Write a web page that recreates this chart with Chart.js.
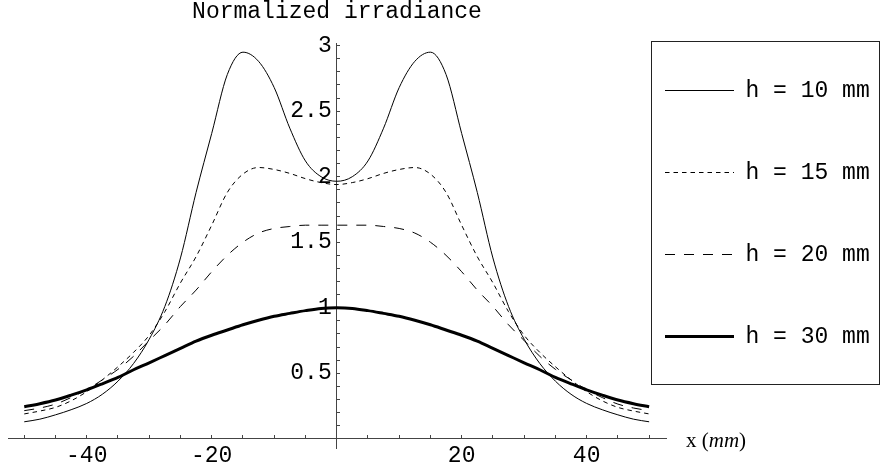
<!DOCTYPE html>
<html>
<head>
<meta charset="utf-8">
<script src="https://cdn.jsdelivr.net/npm/chart.js@4.4.1/dist/chart.umd.min.js"></script>
<style>
  html, body { margin: 0; padding: 0; background: #fff; }
  #contenedor { position: relative; width: 880px; height: 472px; }
</style>
</head>
<body>
<div id="contenedor"><canvas id="grafico-irradiancia"></canvas></div>
<script>
// Posiciones a lo largo del eje x (mm)
const posicionesX = [-50, -47.5, -45, -42.5, -40, -37.5, -35, -32.5, -30, -27.5, -25, -22.5, -20, -17.5, -15, -12.5, -10, -7.5, -5, -2.5,
  0, 2.5, 5, 7.5, 10, 12.5, 15, 17.5, 20, 22.5, 25, 27.5, 30, 32.5, 35, 37.5, 40, 42.5, 45, 47.5, 50];

// Irradiancia normalizada para cada altura h
const irradianciaH10 = [0.13, 0.15, 0.183, 0.222, 0.27, 0.34, 0.44, 0.575, 0.76, 1.01, 1.38, 1.88, 2.33, 2.78, 2.95, 2.88, 2.68, 2.37, 2.12, 2.00,
  1.965, 2.00, 2.12, 2.37, 2.68, 2.88, 2.95, 2.78, 2.33, 1.88, 1.38, 1.01, 0.76, 0.575, 0.44, 0.34, 0.27, 0.222, 0.183, 0.15, 0.13];
const irradianciaH15 = [0.19, 0.212, 0.24, 0.29, 0.36, 0.45, 0.55, 0.66, 0.79, 0.97, 1.19, 1.39, 1.63, 1.88, 2.02, 2.07, 2.055, 2.025, 1.985, 1.955,
  1.94, 1.955, 1.985, 2.025, 2.055, 2.07, 2.02, 1.88, 1.63, 1.39, 1.19, 0.97, 0.79, 0.66, 0.55, 0.45, 0.36, 0.29, 0.24, 0.212, 0.19];
const irradianciaH20 = [0.215, 0.235, 0.265, 0.315, 0.375, 0.45, 0.53, 0.63, 0.75, 0.87, 1.01, 1.135, 1.275, 1.40, 1.50, 1.57, 1.605, 1.62, 1.63, 1.63,
  1.63, 1.63, 1.63, 1.62, 1.605, 1.57, 1.50, 1.40, 1.275, 1.135, 1.01, 0.87, 0.75, 0.63, 0.53, 0.45, 0.375, 0.315, 0.265, 0.235, 0.215];
const irradianciaH30 = [0.245, 0.268, 0.296, 0.333, 0.374, 0.42, 0.468, 0.527, 0.58, 0.635, 0.69, 0.745, 0.79, 0.83, 0.87, 0.905, 0.935, 0.957, 0.978, 0.995,
  1.0, 0.995, 0.978, 0.957, 0.935, 0.905, 0.87, 0.83, 0.79, 0.745, 0.69, 0.635, 0.58, 0.527, 0.468, 0.42, 0.374, 0.333, 0.296, 0.268, 0.245];

const etiquetasSeries = ['h = 10 mm', 'h = 15 mm', 'h = 20 mm', 'h = 30 mm'];

// Marcas con texto (el resto de marcas son menores)
const ticksXConEtiqueta = [-40, -20, 20, 40];
const ticksYConEtiqueta = [0.5, 1, 1.5, 2, 2.5, 3];

const FUENTE_MONO = '"Liberation Mono", "Courier New", monospace';
const FUENTE_SERIF = '"Liberation Serif", "Times New Roman", serif';

/**
 * Convierte una serie de valores en puntos {x, y}
 * @param {Array} valores - Valores de la serie
 */
function aPuntos(valores) {
  return posicionesX.map((x, i) => ({ x: x, y: valores[i] }));
}

// Marco de la leyenda, posición de la leyenda y rótulo del eje x
const pluginDecoracion = {
  id: 'decoracion',
  afterLayout(chart) {
    const leyenda = chart.legend;
    const pad = leyenda.options.labels.padding;
    leyenda.left = 665 - pad;
    leyenda.top = 90.5 - 11.5 - pad;
    leyenda.right = 880;
    leyenda.bottom = 472;
    leyenda.width = leyenda.right - leyenda.left;
    leyenda.height = leyenda.bottom - leyenda.top;
  },
  beforeDraw(chart) {
    // Separar las etiquetas del eje y del propio eje
    const items = chart.scales.y.getLabelItems(chart.chartArea);
    if (!items._desplazado) {
      items.forEach(item => { item.options.translation[0] -= 5; });
      items._desplazado = true;
    }
  },
  afterDraw(chart) {
    const ctx = chart.ctx;
    const ejeX = chart.scales.x;
    const yCero = chart.scales.y.getPixelForValue(0);
    ctx.save();
    ctx.strokeStyle = '#222';
    ctx.lineWidth = 1;
    ctx.strokeRect(651.5, 41.5, 228, 343);

    ctx.fillStyle = '#000';
    ctx.textBaseline = 'alphabetic';
    ctx.textAlign = 'left';
    let xt = ejeX.right + 20;
    const base = yCero + 8;
    ctx.font = '21px ' + FUENTE_SERIF;
    ctx.fillText('x (', xt, base);
    xt += ctx.measureText('x (').width;
    ctx.font = 'italic 21px ' + FUENTE_SERIF;
    ctx.fillText('mm', xt, base);
    xt += ctx.measureText('mm').width;
    ctx.font = '21px ' + FUENTE_SERIF;
    ctx.fillText(')', xt, base);
    ctx.restore();
  }
};

const canvas = document.getElementById('grafico-irradiancia');

const grafico = new Chart(canvas, {
  type: 'line',
  data: {
    datasets: [
      {
        label: etiquetasSeries[0],
        data: aPuntos(irradianciaH10),
        borderColor: '#000',
        borderWidth: 1,
        borderDash: [],
        pointRadius: 0,
        cubicInterpolationMode: 'monotone',
        fill: false
      },
      {
        label: etiquetasSeries[1],
        data: aPuntos(irradianciaH15),
        borderColor: '#000',
        borderWidth: 1,
        borderDash: [4.5, 4],
        pointRadius: 0,
        cubicInterpolationMode: 'monotone',
        fill: false
      },
      {
        label: etiquetasSeries[2],
        data: aPuntos(irradianciaH20),
        borderColor: '#000',
        borderWidth: 1,
        borderDash: [10, 9],
        pointRadius: 0,
        cubicInterpolationMode: 'monotone',
        fill: false
      },
      {
        label: etiquetasSeries[3],
        data: aPuntos(irradianciaH30),
        borderColor: '#000',
        borderWidth: 3,
        borderDash: [],
        pointRadius: 0,
        cubicInterpolationMode: 'monotone',
        fill: false
      }
    ]
  },
  options: {
    responsive: true,
    maintainAspectRatio: false,
    animation: false,
    layout: {
      padding: { left: 8, right: 214, top: 0, bottom: 24 }
    },
    plugins: {
      title: {
        display: true,
        text: 'Normalized irradiance',
        fullSize: false,
        color: '#000',
        font: { family: FUENTE_MONO, size: 23, weight: 'normal', lineHeight: 1 },
        padding: { top: 0, bottom: 20 }
      },
      legend: {
        position: 'chartArea',
        align: 'start',
        labels: {
          usePointStyle: true,
          pointStyle: 'line',
          pointStyleWidth: 69,
          padding: 59,
          color: '#000',
          font: { family: FUENTE_MONO, size: 23 },
          generateLabels: function(chart) {
            return chart.data.datasets.map((ds, i) => ({
              text: ds.label,
              fillStyle: 'transparent',
              strokeStyle: '#000',
              fontColor: '#000',
              lineWidth: ds.borderWidth,
              lineDash: ds.borderDash,
              lineCap: 'butt',
              pointStyle: 'line',
              hidden: false,
              datasetIndex: i
            }));
          }
        }
      },
      tooltip: { enabled: false }
    },
    scales: {
      x: {
        type: 'linear',
        min: -52.6,
        max: 52.7,
        position: { y: 0 },
        border: { display: true, color: '#444', width: 1 },
        grid: { drawOnChartArea: false, drawTicks: true, tickLength: -4, tickColor: '#444', tickWidth: 1 },
        ticks: {
          stepSize: 5,
          includeBounds: false,
          autoSkip: false,
          maxRotation: 0,
          padding: 7,
          color: '#000',
          font: { family: FUENTE_MONO, size: 23 },
          callback: function(value) {
            return ticksXConEtiqueta.includes(value) ? String(value) : '';
          }
        }
      },
      y: {
        type: 'linear',
        min: -0.07,
        max: 3.02,
        position: { x: 0 },
        border: { display: true, color: '#444', width: 1 },
        grid: { drawOnChartArea: false, drawTicks: true, tickLength: -4, tickColor: '#444', tickWidth: 1 },
        ticks: {
          stepSize: 0.1,
          includeBounds: false,
          autoSkip: false,
          padding: 0,
          color: '#000',
          font: { family: FUENTE_MONO, size: 23 },
          callback: function(value) {
            const marca = ticksYConEtiqueta.find(t => Math.abs(t - value) < 1e-6);
            return marca === undefined ? '' : String(marca);
          }
        }
      }
    }
  },
  plugins: [pluginDecoracion]
});
</script>
</body>
</html>
